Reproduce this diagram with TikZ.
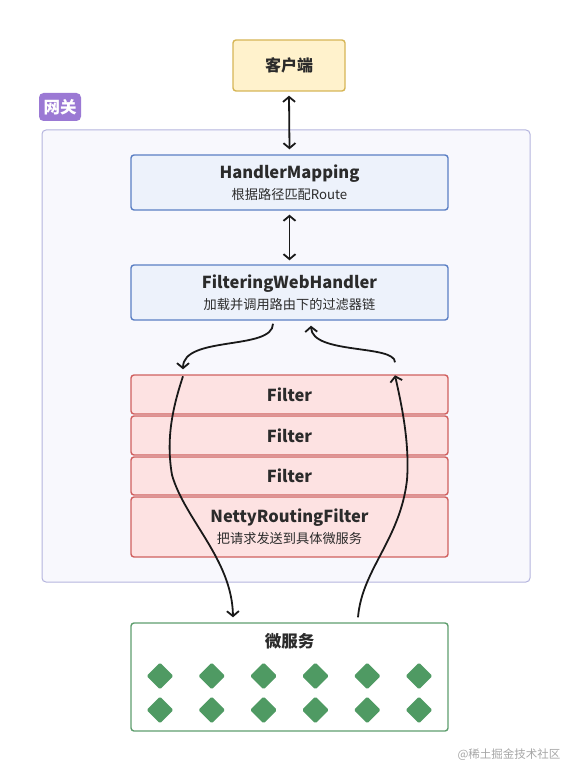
\documentclass[tikz,border=0pt]{standalone}
\usepackage{fontspec}
\setmainfont{Noto Sans CJK SC}
\usepackage{xcolor}
\usetikzlibrary{shapes.geometric,arrows.meta}

\definecolor{clientfill}{HTML}{FFF2CC}
\definecolor{clientline}{HTML}{D6B656}
\definecolor{gwfill}{HTML}{F8F8FD}
\definecolor{gwline}{HTML}{B4B4DE}
\definecolor{tagfill}{HTML}{9B79D4}
\definecolor{hmfill}{HTML}{EDF2FB}
\definecolor{hmline}{HTML}{5B7FC4}
\definecolor{ftfill}{HTML}{FDE2E2}
\definecolor{ftline}{HTML}{D0605F}
\definecolor{msline}{HTML}{5E9E6E}
\definecolor{msdot}{HTML}{4F9A63}
\definecolor{txt}{HTML}{2B2B2B}

\newcommand{\boxtext}[2]{{\bfseries\fontsize{16.5}{18}\selectfont #1}\\[5pt]{\fontsize{13.2}{14}\selectfont #2}}

\begin{document}
\begin{tikzpicture}[x=1pt,y=-1pt,
  box/.style={rectangle, rounded corners=3pt, line width=1.4pt, minimum width=317pt, align=center, inner sep=0pt, text=txt},
  bluebox/.style={box, draw=hmline, fill=hmfill, minimum height=55pt},
  redbox/.style={box, draw=ftline, fill=ftfill},
  titletext/.style={font=\bfseries\fontsize{16.5}{18}\selectfont, text=txt},
  msdiamond/.style={diamond, fill=msdot, inner sep=0pt, minimum width=27pt, minimum height=27pt, rounded corners=1.5pt}]
            \useasboundingbox (0,0) rectangle (565,767);
            \node[rectangle, rounded corners=4pt, draw=gwline, fill=gwfill, line width=1pt, minimum width=488pt, minimum height=452pt] (gw) at (286,356) {};
            \node[rectangle, rounded corners=4.5pt, fill=tagfill, text=white, minimum width=42pt, minimum height=28pt, inner sep=0pt, font=\bfseries\fontsize{16.5}{18}\selectfont] (gwtag) at (60,107) {网关};
            \node[box, draw=clientline, fill=clientfill, minimum width=112pt, minimum height=51pt, font=\bfseries\fontsize{16}{18}\selectfont] (client) at (289,65.5) {客户端};
            \node[bluebox] (hm) at (289.5,182.5) {\boxtext{HandlerMapping}{根据路径匹配Route}};
            \node[bluebox] (fwh) at (289.5,292.5) {\boxtext{FilteringWebHandler}{加载并调用路由下的过滤器链}};
            \node[redbox, minimum height=39pt, font=\bfseries\fontsize{16.5}{18}\selectfont] (f1) at (289.5,394.5) {Filter};
            \node[redbox, minimum height=39pt, font=\bfseries\fontsize{16.5}{18}\selectfont] (f2) at (289.5,435.5) {Filter};
            \node[redbox, minimum height=38pt, font=\bfseries\fontsize{16.5}{18}\selectfont] (f3) at (289.5,476) {Filter};
            \node[redbox, minimum height=60pt] (netty) at (289.5,527) {\boxtext{NettyRoutingFilter}{把请求发送到具体微服务}};
            \node[box, draw=msline, fill=white, minimum height=108pt] (ms) at (289.5,677) {};
            \node[titletext] (mstitle) at (289.5,641) {微服务};
            \foreach \c in {0,...,5}
              \foreach \r in {0,1}
                \node[msdiamond] (d\c\r) at (160+51.8*\c,676+34*\r) {};
            \node[text=black!35, font=\fontsize{11.5}{13}\selectfont] (mark) at (509,755) {@稀土掘金技术社区};

            \tikzset{flow/.style={line width=1.8pt, black!90, >={Straight Barb[length=5pt,width=12pt]}}}
            \coordinate (lbend) at (172,475);
            \coordinate (rbend) at (407,480);

            \draw[flow,<->] ([yshift=-4pt]client.south) -- ([yshift=5pt]hm.north);
            \draw[flow,<->] ([yshift=-4pt]hm.south) -- ([yshift=4pt]fwh.north);
            \draw[flow,->] ([xshift=-16.5pt,yshift=-3pt]fwh.south) .. controls +(0,27) and +(0,-34) .. ([xshift=-106.5pt,yshift=5pt]f1.north);
            \draw[flow,->] ([xshift=-106.5pt,yshift=-2pt]f1.north) .. controls +(-11,33) and +(-6,-35) .. (lbend) .. controls +(13,45) and +(-1,-58) .. ([xshift=-56.5pt,yshift=5pt]ms.north);
            \draw[flow,->] ([xshift=68.5pt,yshift=5pt]ms.north) .. controls +(4,-48) and +(-7,60) .. (rbend) .. controls +(3,-40) and +(5,23) .. ([xshift=105.5pt,yshift=-1pt]f1.north);
            \draw[flow,->] ([xshift=105.5pt,yshift=12pt]f1.north) .. controls +(0,-18) and +(1,29) .. ([xshift=21.5pt,yshift=-5pt]fwh.south);

        \end{tikzpicture}
\end{document}
